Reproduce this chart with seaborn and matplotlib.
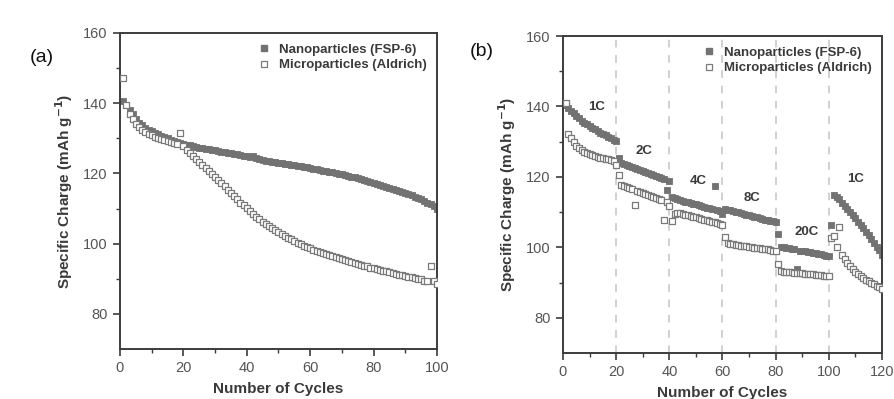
import numpy as np
import pandas as pd
import matplotlib
matplotlib.use("Agg")
import matplotlib.pyplot as plt
from matplotlib.lines import Line2D
import seaborn as sns

sns.set_theme(style="white")
plt.rcParams['font.family'] = ['Liberation Sans', 'DejaVu Sans']

# ---------------- data: panel (a) cycling ----------------
cycles_a = list(range(1, 101))
nano_a = [140.5, 139.5, 138.0, 136.8, 135.5, 134.5, 133.7, 133.0, 132.5, 132.0,
          131.5, 131.1, 130.7, 130.3, 130.0, 129.6, 129.3, 129.0, 128.7, 128.4,
          128.2, 128.0, 127.7, 127.5, 127.3, 127.2, 127.0, 126.9, 126.7, 126.6,
          126.4, 126.2, 126.1, 125.9, 125.7, 125.6, 125.4, 125.2, 125.1, 124.9,
          124.7, 124.9, 124.3, 124.2, 123.9, 123.5, 123.6, 123.3, 123.4, 123.1,
          122.9, 122.8, 122.7, 122.5, 122.4, 122.2, 122.0, 121.9, 121.7, 121.5,
          121.3, 121.2, 121.0, 120.8, 120.7, 120.5, 120.3, 120.1, 119.9, 119.7,
          119.5, 119.3, 119.1, 118.9, 118.7, 118.4, 118.2, 117.9, 117.7, 117.4,
          117.1, 116.8, 116.5, 116.2, 115.9, 115.6, 115.3, 115.0, 114.7, 114.4,
          114.1, 113.8, 113.4, 113.0, 112.6, 112.2, 111.7, 111.2, 110.6, 110.0]
micro_a = [147.2, 139.5, 137.0, 135.5, 134.2, 133.2, 132.4, 131.8, 131.3, 130.9,
           130.5, 130.2, 129.9, 129.6, 129.3, 129.0, 128.8, 128.5, 131.5, 127.8,
           126.8, 125.9, 125.0, 124.2, 123.4, 122.5, 121.6, 120.7, 119.8, 119.0,
           118.1, 117.2, 116.3, 115.4, 114.5, 113.6, 112.7, 111.7, 110.9, 110.1,
           109.3, 108.5, 107.7, 107.0, 106.3, 105.7, 105.1, 104.5, 103.9, 103.3,
           102.7, 102.2, 101.7, 101.2, 100.7, 100.2, 99.8, 99.4, 99.0, 98.7,
           98.3, 98.0, 97.7, 97.3, 97.0, 96.7, 96.4, 96.1, 95.8, 95.5,
           95.3, 95.1, 94.8, 94.5, 94.2, 94.0, 93.7, 93.5, 93.2, 93.0,
           92.8, 92.5, 92.3, 92.1, 91.9, 91.7, 91.4, 91.2, 91.0, 90.8,
           90.6, 90.4, 90.2, 90.0, 89.8, 89.5, 89.3, 93.7, 89.3, 88.6]

# ---------------- data: panel (b) rate capability ----------------
cycles_b = list(range(1, 121))
nano_b = [140.5, 139.5, 138.8, 138.0, 137.3, 136.6, 136.0, 135.4, 134.9, 134.4,
          133.9, 133.5, 133.1, 132.6, 132.2, 131.8, 131.4, 131.0, 130.5, 130.1,
          125.5, 123.9, 123.6, 123.3, 123.0, 122.7, 122.4, 122.2, 121.9, 121.6,
          121.3, 121.1, 120.8, 120.5, 120.2, 120.0, 119.7, 119.4, 116.3, 118.8,
          114.3, 113.9, 113.6, 113.4, 113.2, 113.0, 112.8, 112.6, 112.4, 112.2,
          112.0, 111.7, 111.5, 111.3, 111.1, 110.9, 117.5, 110.5, 110.2, 109.5,
          111.0, 110.7, 110.5, 110.3, 110.1, 109.9, 109.7, 109.5, 109.3, 109.1,
          108.9, 108.7, 108.5, 108.3, 108.1, 107.9, 107.8, 107.6, 107.4, 107.2,
          103.7, 100.2, 100.0, 99.9, 99.7, 99.6, 99.4, 93.8, 99.1, 99.0,
          98.9, 98.7, 98.6, 98.4, 98.3, 98.1, 98.0, 97.8, 97.6, 97.4,
          106.3, 115.0, 114.4, 113.6, 112.7, 111.8, 110.9, 110.0, 109.1, 108.2,
          107.3, 106.4, 105.4, 104.4, 103.4, 102.3, 101.2, 100.2, 99.2, 97.9]
micro_b = [141.0, 132.2, 131.0, 129.9, 128.9, 128.2, 127.6, 127.1, 126.7, 126.4,
           126.1, 125.9, 125.7, 125.5, 125.3, 125.1, 125.0, 124.8, 124.6, 123.4,
           120.5, 117.7, 117.5, 117.2, 116.9, 116.6, 112.0, 116.0, 115.7, 115.4,
           115.1, 114.8, 114.5, 114.2, 113.9, 113.6, 113.4, 107.7, 113.0, 111.8,
           107.5, 109.6, 109.8, 109.7, 109.5, 109.3, 109.1, 108.9, 108.7, 108.5,
           108.3, 108.1, 107.9, 107.7, 107.5, 107.3, 107.1, 106.9, 106.6, 106.3,
           103.0, 101.2, 101.0, 100.9, 100.8, 100.6, 100.5, 100.4, 100.3, 100.2,
           100.0, 99.9, 99.8, 99.7, 99.6, 99.5, 99.4, 99.3, 99.1, 99.0,
           95.3, 93.2, 93.1, 93.0, 93.0, 92.9, 92.8, 92.7, 92.7, 92.6,
           92.5, 92.4, 92.4, 92.3, 92.2, 92.1, 92.1, 92.0, 92.0, 91.9,
           102.6, 103.2, 100.1, 105.8, 97.9, 96.6, 95.6, 94.7, 93.9, 93.1,
           92.4, 91.8, 91.3, 90.8, 90.4, 90.0, 89.5, 89.1, 88.6, 88.2]

rate_bounds = [20, 40, 60, 80, 100]
rate_labels = ["1C", "2C", "4C", "8C", "20C", "1C"]
series_names = ["Nanoparticles (FSP-6)", "Microparticles (Aldrich)"]
panel_tags = ["(a)", "(b)"]

# ---------------- styling ----------------
W, H = 895, 399
fig = plt.figure(figsize=(W / 100, H / 100), dpi=100)
fig.patch.set_facecolor("white")

ax_a = fig.add_axes([120 / W, 1 - 349 / H, (437 - 120) / W, (349 - 33) / H])
ax_b = fig.add_axes([563 / W, 1 - 353 / H, (882 - 563) / W, (353 - 36) / H])

nano_col = "#727272"
micro_col = "#7a7a7a"
text_col = "#3a3a3a"
tick_col = "#555555"
spine_col = "#3c3c3c"


def draw(ax, cyc, nano, micro):
    df_n = pd.DataFrame({"cycle": cyc, "charge": nano})
    df_m = pd.DataFrame({"cycle": cyc, "charge": micro})
    sns.scatterplot(data=df_m, x="cycle", y="charge", ax=ax, marker="s", s=15,
                    facecolor="white", edgecolor=micro_col, linewidth=0.9,
                    zorder=3, legend=False)
    sns.scatterplot(data=df_n, x="cycle", y="charge", ax=ax, marker="s", s=16,
                    color=nano_col, edgecolor=nano_col, linewidth=0.6,
                    zorder=2, legend=False)


draw(ax_a, cycles_a, nano_a, micro_a)
draw(ax_b, cycles_b, nano_b, micro_b)

for ax, xmax in ((ax_a, 100), (ax_b, 120)):
    ax.set_xlim(0, xmax)
    ax.set_ylim(70, 160)
    ax.set_xticks(np.arange(0, xmax + 1, 20))
    ax.set_xticks(np.arange(10, xmax, 20), minor=True)
    ax.set_yticks([80, 100, 120, 140, 160])
    ax.set_yticks([90, 110, 130, 150], minor=True)
    for sp in ax.spines.values():
        sp.set_color(spine_col)
        sp.set_linewidth(1.4)
    ax.tick_params(axis="both", which="major", direction="out", length=5,
                   width=1.2, color=spine_col, labelsize=10.5,
                   labelcolor=tick_col, bottom=True, left=True, pad=4)
    ax.tick_params(axis="both", which="minor", direction="out", length=3,
                   width=1.0, color=spine_col, bottom=True, left=True)
    ax.set_xlabel("Number of Cycles", fontsize=11, fontweight="bold",
                  color=text_col, labelpad=5)
    ax.set_ylabel("Specific Charge (mAh g$^{\\mathbf{-1}}$)", fontsize=11,
                  fontweight="bold", color=text_col, labelpad=6)
    ax.grid(False)
    handles = [
        Line2D([], [], marker="s", linestyle="none", markersize=4,
               markerfacecolor=nano_col, markeredgecolor=nano_col),
        Line2D([], [], marker="s", linestyle="none", markersize=4,
               markerfacecolor="white", markeredgecolor=micro_col,
               markeredgewidth=0.9),
    ]
    leg = ax.legend(handles, series_names, loc="upper right", frameon=False,
                    fontsize=9.5, handletextpad=0.6, labelspacing=0.25,
                    borderaxespad=0.4, handlelength=1.0)
    for t in leg.get_texts():
        t.set_fontweight("bold")
        t.set_color(text_col)

# dashed rate boundaries in (b)
for xb in rate_bounds:
    ax_b.axvline(xb, color="#c4c4c4", linestyle=(0, (5, 5)), linewidth=1.1,
                 zorder=1)

label_pos = [(12.8, 139.8), (30.5, 127.3), (50.8, 118.8), (71.1, 114.0),
             (91.7, 104.3), (110.2, 119.4)]
for lab, (lx, ly) in zip(rate_labels, label_pos):
    ax_b.text(lx, ly, lab, ha="center", va="center", fontsize=9.5,
              fontweight="bold", color=text_col, zorder=4)

fig.text(30 / W, 1 - 57 / H, panel_tags[0], fontsize=14, color="#111111",
         ha="left", va="center")
fig.text(470 / W, 1 - 52 / H, panel_tags[1], fontsize=14, color="#111111",
         ha="left", va="center")

fig.savefig("out.png", dpi=100, facecolor="white")
